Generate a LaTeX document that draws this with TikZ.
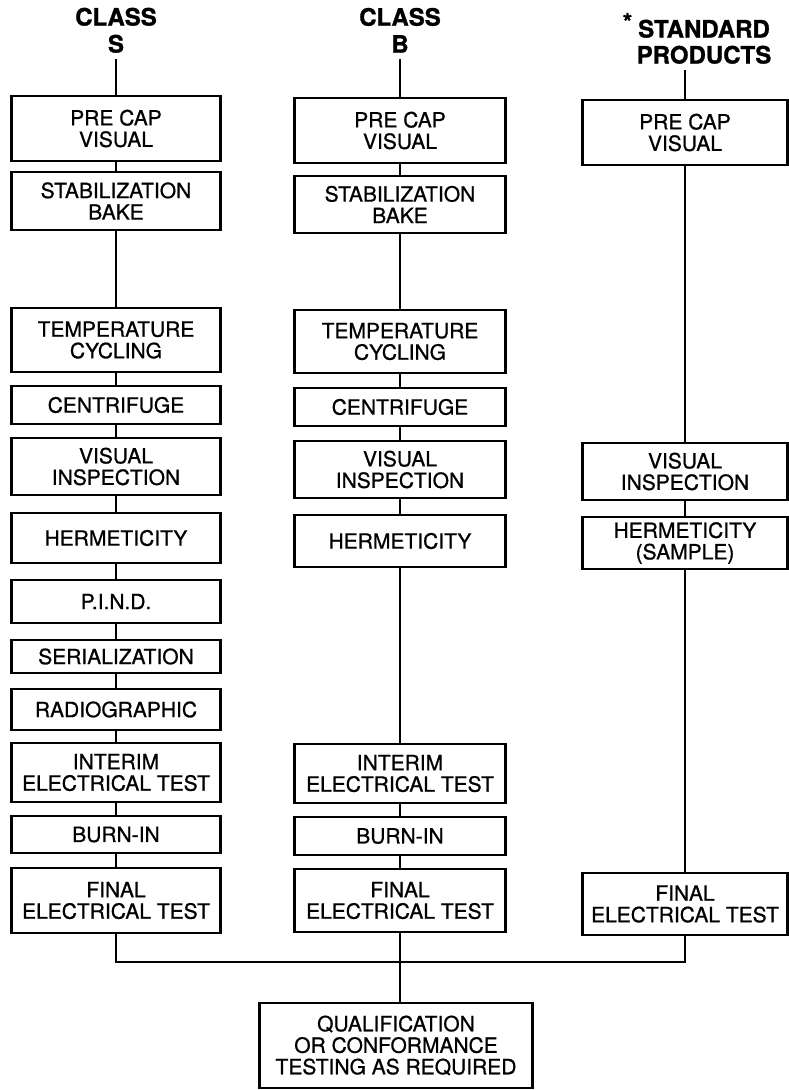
\documentclass[tikz,border=0pt]{standalone}
\usepackage{fontspec}
\setmainfont{TeX Gyre Heros}
\newfontfamily\stagefont{TeX Gyre Heros}[FakeBold=0.8]
\newfontfamily\headfont{TeX Gyre Heros Bold}[FakeBold=1.2]
\usepackage{tikz}

\begin{document}
\begin{tikzpicture}[x=1pt,y=-1pt,line width=2.2pt,
    stage/.style={shape=rectangle,draw=black,align=center,inner sep=0pt,
        font=\stagefont\fontsize{21}{21.5}\selectfont},
    scol/.style={stage,minimum width=209pt},
    bcol/.style={stage,minimum width=211pt},
    pcol/.style={stage,minimum width=205pt},
    head/.style={align=center,inner sep=5pt,font=\headfont\fontsize{24}{27}\selectfont}]
\useasboundingbox (0,0) rectangle (789,1090);

\node[head] (hs) at (116,30.3) {CLASS\\S};
\node[head] (hb) at (400,30.3) {CLASS\\B};
\node[head,font=\headfont\fontsize{24}{26}\selectfont] (hp) at (704,38.4) {\llap{\raisebox{7pt}{*}\hspace{6pt}}STANDARD\\PRODUCTS};

% class S
\node[scol,minimum height=65pt] (s1) at (116,128.5) {PRE CAP\\VISUAL};
\node[scol,minimum height=58pt] (s2) at (116,201) {STABILIZATION\\BAKE};
\node[scol,minimum height=64pt] (s3) at (116,340) {TEMPERATURE\\CYCLING};
\node[scol,minimum height=38pt] (s4) at (116,405) {CENTRIFUGE};
\node[scol,minimum height=57pt] (s5) at (116,466.5) {VISUAL\\INSPECTION};
\node[scol,minimum height=50pt] (s6) at (116,538) {HERMETICITY};
\node[scol,minimum height=43pt] (s7) at (116,601.5) {P.I.N.D.};
\node[scol,minimum height=33pt] (s8) at (116,656.5) {SERIALIZATION};
\node[scol,minimum height=41pt] (s9) at (116,709.5) {RADIOGRAPHIC};
\node[scol,minimum height=59pt] (s10) at (116,772.5) {INTERIM\\ELECTRICAL TEST};
\node[scol,minimum height=37pt] (s11) at (116,834.5) {BURN-IN};
\node[scol,minimum height=65pt] (s12) at (116,900.5) {FINAL\\ELECTRICAL TEST};

% class B
\node[bcol,minimum height=65pt] (b1) at (400,130.5) {PRE CAP\\VISUAL};
\node[bcol,minimum height=57pt] (b2) at (400,204.5) {STABILIZATION\\BAKE};
\node[bcol,minimum height=63pt] (b3) at (400,341.5) {TEMPERATURE\\CYCLING};
\node[bcol,minimum height=38pt] (b4) at (400,407) {CENTRIFUGE};
\node[bcol,minimum height=57pt] (b5) at (400,469.5) {VISUAL\\INSPECTION};
\node[bcol,minimum height=52pt] (b6) at (400,541) {HERMETICITY};
\node[bcol,minimum height=59pt] (b7) at (400,773.5) {INTERIM\\ELECTRICAL TEST};
\node[bcol,minimum height=38pt] (b8) at (400,836) {BURN-IN};
\node[bcol,minimum height=63pt] (b9) at (400,900.5) {FINAL\\ELECTRICAL TEST};

% standard products
\node[pcol,minimum height=65pt] (p1) at (685,132.5) {PRE CAP\\VISUAL};
\node[pcol,minimum height=57pt] (p2) at (685,471.5) {VISUAL\\INSPECTION};
\node[pcol,minimum height=52pt] (p3) at (685,543) {HERMETICITY\\(SAMPLE)};
\node[pcol,minimum height=62pt] (p4) at (685,904) {FINAL\\ELECTRICAL TEST};

\node[stage,minimum width=273pt,minimum height=85pt] (q) at (396,1045.5) {QUALIFICATION\\OR CONFORMANCE\\TESTING AS REQUIRED};

\coordinate (bus) at (400,962);

\path[-] (hs) edge (s1);
\path[-] (s1) edge (s2);
\path[-] (s2) edge (s3);
\path[-] (s3) edge (s4);
\path[-] (s4) edge (s5);
\path[-] (s5) edge (s6);
\path[-] (s6) edge (s7);
\path[-] (s7) edge (s8);
\path[-] (s8) edge (s9);
\path[-] (s9) edge (s10);
\path[-] (s10) edge (s11);
\path[-] (s11) edge (s12);

\path[-] (hb) edge (b1);
\path[-] (b1) edge (b2);
\path[-] (b2) edge (b3);
\path[-] (b3) edge (b4);
\path[-] (b4) edge (b5);
\path[-] (b5) edge (b6);
\path[-] (b6) edge (b7);
\path[-] (b7) edge (b8);
\path[-] (b8) edge (b9);

\path[-] (hp.south -| p1) edge (p1);
\path[-] (p1) edge (p2);
\path[-] (p2) edge (p3);
\path[-] (p3) edge (p4);

\path[-,draw] (s12) |- (bus) -| (p4);
\path[-] (b9.south) edge (b9.south |- q.north);

    \end{tikzpicture}
\end{document}
